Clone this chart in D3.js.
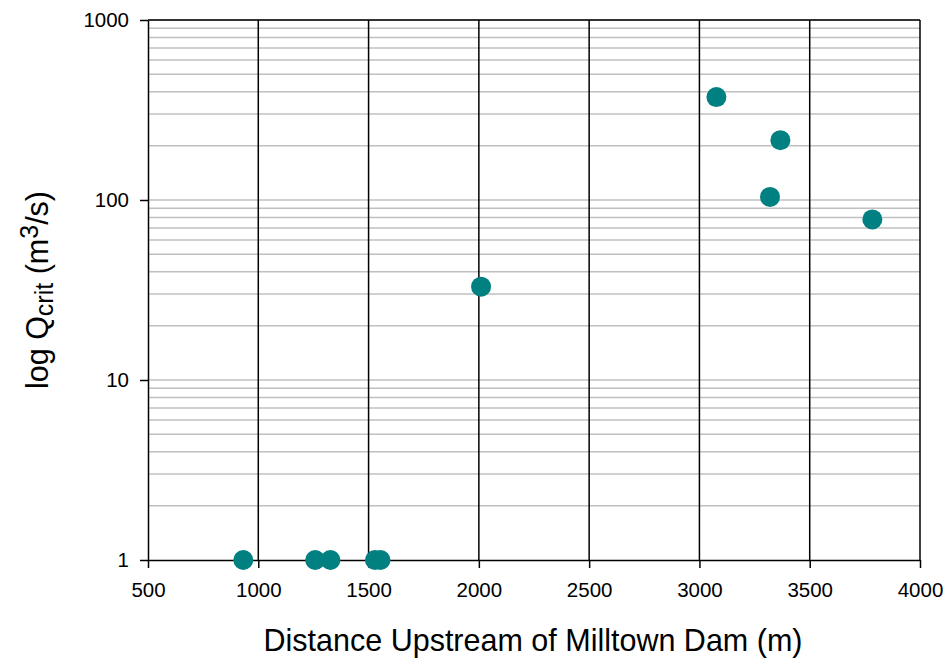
<!DOCTYPE html>
<html>
<head>
	<meta charset="utf-8">
	<script src="https://cdn.jsdelivr.net/npm/d3@7"></script>
	<style>
		body { margin: 0; background: #fff; }
		text { font-family: "Liberation Sans", Arial, sans-serif; fill: #000; }
	</style>
</head>
<body>
	<svg width="948" height="667"></svg>
	<script>
		// distance upstream (m) and critical discharge (m3/s)
		var distance = [932, 1258, 1327, 1529, 1554, 2010, 3077, 3367, 3320, 3784];
		var qcrit = [1, 1, 1, 1, 1, 33, 373, 215, 104, 78];
		var xTicks = [500, 1000, 1500, 2000, 2500, 3000, 3500, 4000];
		var yTicks = [1, 10, 100, 1000];

		var m = { left: 148, right: 920, top: 20, bottom: 560 };
		var svg = d3.select('svg');

		var x = d3.scaleLinear().domain([500, 4000]).range([m.left, m.right]);
		var y = d3.scaleLog().domain([1, 1000]).range([m.bottom, m.top]);

		// minor horizontal grid
		var minor = [];
		[1, 10, 100].forEach(function(d) {
			for (var k = 2; k <= 10; k++) minor.push(d * k);
		});
		svg.append('g').selectAll('line').data(minor).enter().append('line')
			.attr('x1', m.left).attr('x2', m.right)
			.attr('y1', function(d) { return y(d); })
			.attr('y2', function(d) { return y(d); })
			.attr('stroke', '#c0c0c0').attr('stroke-width', 1.5);

		// vertical grid
		svg.append('g').selectAll('line').data(xTicks.slice(1)).enter().append('line')
			.attr('x1', function(d) { return x(d); })
			.attr('x2', function(d) { return x(d); })
			.attr('y1', m.top).attr('y2', m.bottom)
			.attr('stroke', '#000').attr('stroke-width', 1.5);

		// top border
		svg.append('line').attr('x1', m.left).attr('x2', m.right)
			.attr('y1', m.top).attr('y2', m.top)
			.attr('stroke', '#000').attr('stroke-width', 1.5);

		var xAxis = d3.axisBottom(x).tickValues(xTicks).tickSize(8).tickSizeOuter(0)
			.tickFormat(d3.format('d'));
		var gx = svg.append('g').attr('transform', 'translate(0,' + m.bottom + ')').call(xAxis);
		gx.attr('font-size', 20.5).attr('font-family', null);
		gx.selectAll('text').attr('dy', '1.25em');

		var yAxis = d3.axisLeft(y).tickValues(yTicks).tickSize(8).tickSizeOuter(0)
			.tickFormat(d3.format('d'));
		var gy = svg.append('g').attr('transform', 'translate(' + m.left + ',0)').call(yAxis);
		gy.attr('font-size', 20.5).attr('font-family', null);
		gy.selectAll('text').attr('x', -19);

		svg.selectAll('.domain, .tick line').attr('stroke', '#000').attr('stroke-width', 1.5);

		// points
		svg.append('g').selectAll('circle').data(distance).enter().append('circle')
			.attr('cx', function(d) { return x(d); })
			.attr('cy', function(d, i) { return y(qcrit[i]); })
			.attr('r', 10)
			.attr('fill', '#008080');

		// axis titles
		svg.append('text')
			.attr('x', 533).attr('y', 651)
			.attr('text-anchor', 'middle').attr('font-size', 30.5)
			.text('Distance Upstream of Milltown Dam (m)');

		var yt = svg.append('text')
			.attr('transform', 'translate(48,290) rotate(-90)')
			.attr('text-anchor', 'middle').attr('font-size', 30.5);
		yt.append('tspan').text('log Q');
		yt.append('tspan').attr('baseline-shift', '-20%').attr('font-size', 25).text('crit');
		yt.append('tspan').text(' (m');
		yt.append('tspan').attr('baseline-shift', '40%').attr('font-size', 25).text('3');
		yt.append('tspan').text('/s)');
	</script>
</body>
</html>
